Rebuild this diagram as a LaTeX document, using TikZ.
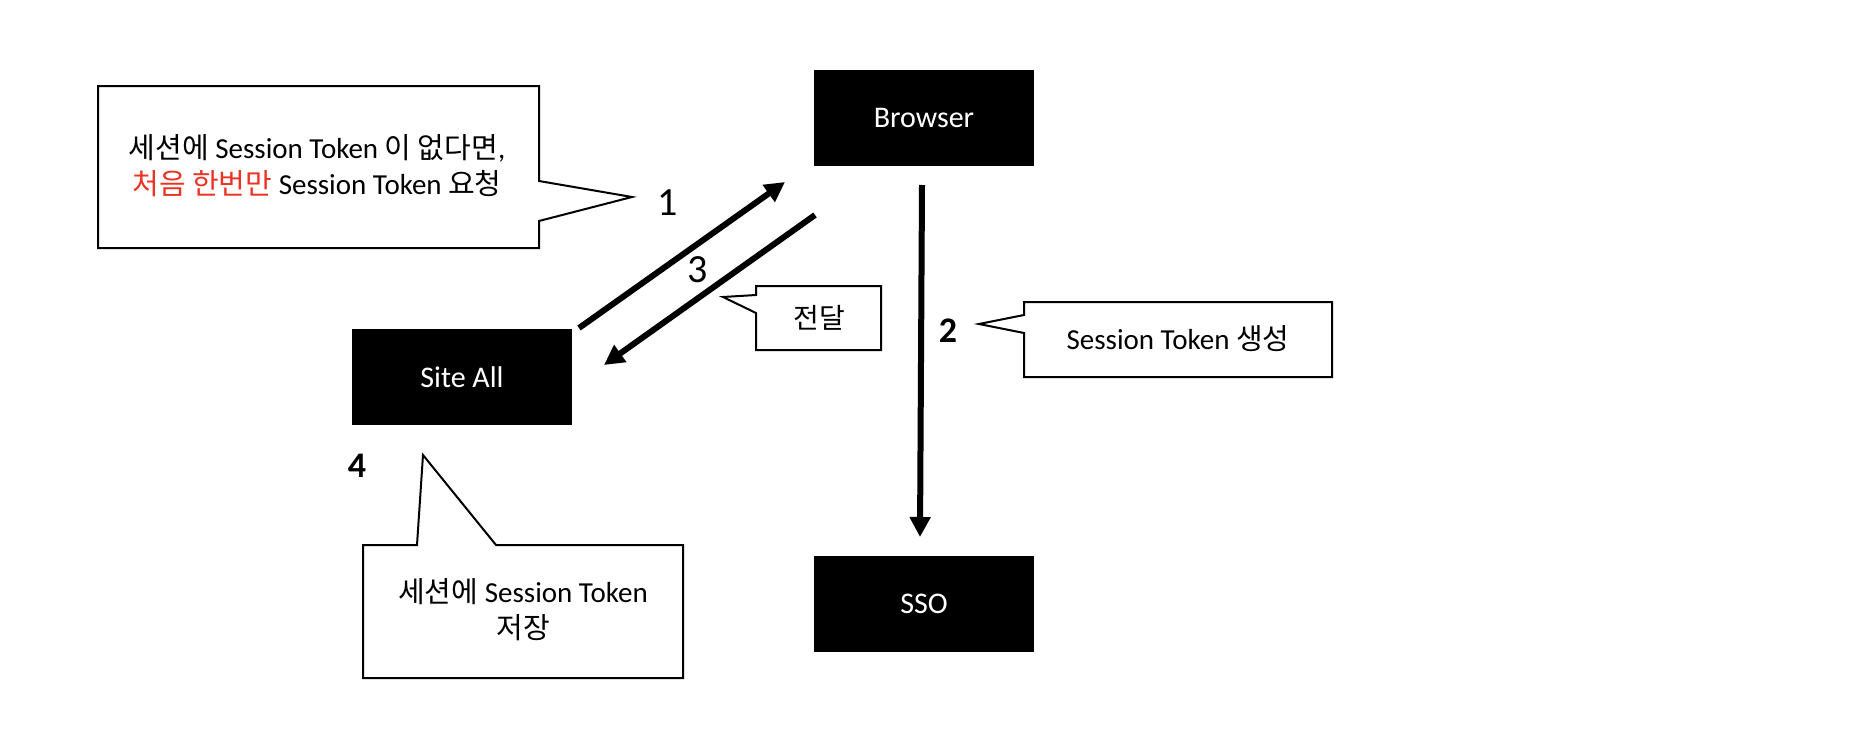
\documentclass[tikz,border=0pt]{standalone}
\usepackage{fontspec}
\setmainfont{Carlito}
\newfontfamily\kr{Noto Sans CJK KR}
\usetikzlibrary{arrows.meta}
\definecolor{kred}{RGB}{235,51,36}
\begin{document}
\begin{tikzpicture}[x=1pt,y=-1pt,
  blk/.style={fill=black,text=white,minimum width=220pt,minimum height=96pt,inner sep=0pt,font=\fontsize{30}{36}\selectfont},
  co/.style={draw=black,line width=2pt,fill=white,line join=miter},
  txt/.style={align=center,inner sep=0pt,font=\fontsize{29}{36}\selectfont},
  num/.style={inner sep=0pt,font=\fontsize{40}{48}\selectfont},
  numb/.style={inner sep=0pt,font=\fontsize{36}{42}\selectfont},
  arr/.style={line width=6pt,-{Triangle[length=20pt,width=20pt]}}]
\useasboundingbox (0,0) rectangle (1852,744);

% boxes
\node[blk] (browser) at (924,118) {Browser};
\node[blk] (sso) at (924,604) {SSO};
\node[blk] (site) at (462,377) {Site All};

% callout 1
\draw[co] (98,86) -- (539,86) -- (539,181) -- (632,197) -- (539,221) -- (539,248) -- (98,248) -- cycle;
\node[txt] (t1) at (317,166) {{\kr 세션에} Session Token {\kr 이 없다면},\\{\color{kred}\kr 처음 한번만} Session Token {\kr 요청}};

% callout 전달
\draw[co] (756,286) -- (881,286) -- (881,350) -- (756,350) -- (756,313) -- (723,297) -- (756,295) -- cycle;
\node[txt,font=\fontsize{28}{34}\selectfont] (t3) at (819,318) {\kr 전달};

% callout 2
\draw[co] (1024,302) -- (1332,302) -- (1332,377) -- (1024,377) -- (1024,333) -- (979,324) -- (1024,315) -- cycle;
\node[txt] (t2) at (1178,339) {Session Token {\kr 생성}};

% callout 4
\draw[co] (363,545) -- (417,545) -- (423,455) -- (496,545) -- (683,545) -- (683,678) -- (363,678) -- cycle;
\node[txt] (t4) at (523,610) {{\kr 세션에} Session Token\\{\kr 저장}};

% numbers
\node[num] (n1) at (668,203) {1};
\node[num] (n3) at (698,270) {3};
\node[numb] (n2) at (948,331) {\bfseries 2};
\node[numb] (n4) at (357,466) {\bfseries 4};

% arrows
\coordinate (a1s) at (579,328);
\coordinate (a1e) at (785,182);
\coordinate (a3s) at (815,215);
\coordinate (a3e) at (604,365);
\coordinate (a2s) at (922,185);
\coordinate (a2e) at (920,537);
\draw[arr] (a1s) -- (a1e);
\draw[arr] (a3s) -- (a3e);
\draw[arr] (a2s) -- (a2e);
\end{tikzpicture}
\end{document}
